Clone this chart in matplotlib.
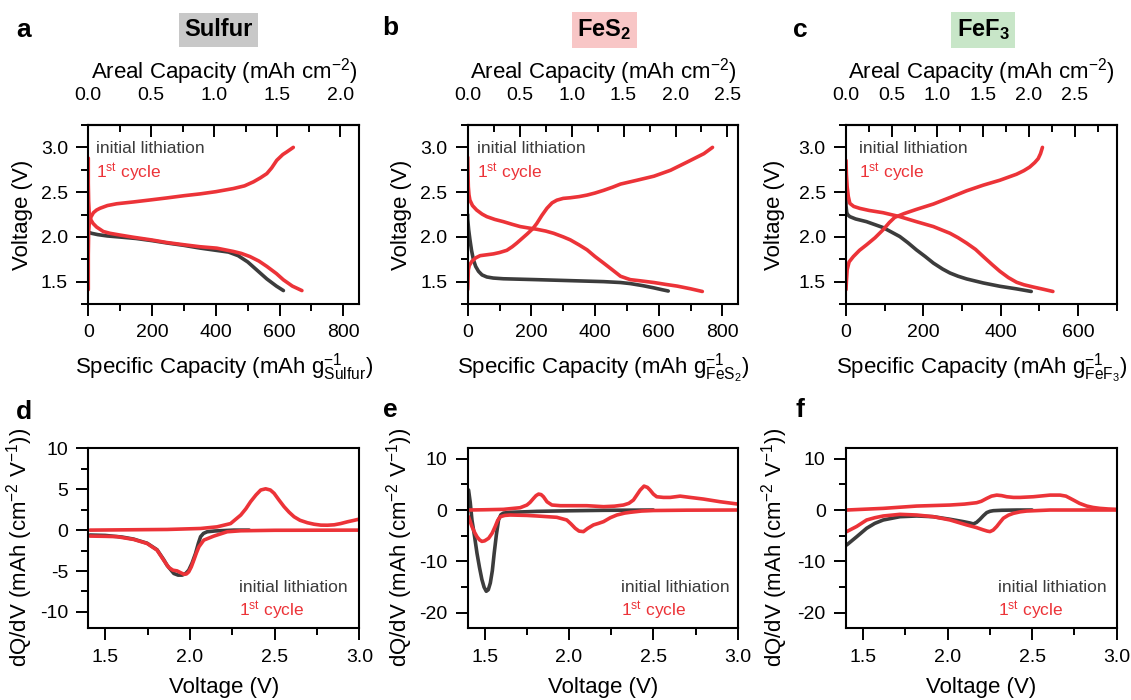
import matplotlib
matplotlib.use("Agg")
import matplotlib.pyplot as plt
from matplotlib.ticker import MultipleLocator, FormatStrFormatter, FixedLocator

plt.rcParams['font.family'] = ['Liberation Sans', 'DejaVu Sans']
plt.rcParams['mathtext.fontset'] = 'custom'
plt.rcParams['mathtext.rm'] = 'Liberation Sans'
plt.rcParams['mathtext.it'] = 'Liberation Sans:italic'
plt.rcParams['mathtext.bf'] = 'Liberation Sans:bold'
plt.rcParams['axes.unicode_minus'] = False

RED = '#ec3338'
GRAY = '#3c3c3c'

# ---------------- data: voltage profiles (specific capacity mAh/g, voltage V) -------------
s_init_cap = [0, 2, 10, 30, 60, 100, 150, 200, 250, 300, 350, 400, 440, 470, 500, 530, 560, 590, 612]
s_init_V = [2.06, 2.05, 2.04, 2.025, 2.01, 1.998, 1.982, 1.958, 1.93, 1.905, 1.875, 1.85, 1.83, 1.79, 1.72, 1.625, 1.53, 1.45, 1.40]
s_dis_cap = [0, 0, 1, 3, 8, 15, 26, 47, 68, 100, 141, 200, 246, 300, 350, 403, 455, 480, 507, 535, 560, 590, 612, 640, 670]
s_dis_V = [2.88, 2.6, 2.4, 2.25, 2.19, 2.15, 2.11, 2.06, 2.04, 2.02, 1.996, 1.965, 1.937, 1.912, 1.89, 1.874, 1.837, 1.815, 1.78, 1.73, 1.67, 1.59, 1.52, 1.45, 1.40]
s_chg_cap = [0, 0, 1, 3, 8, 16, 26, 37, 60, 89, 141, 200, 246, 300, 350, 400, 455, 490, 518, 540, 560, 575, 591, 610, 622, 643]
s_chg_V = [1.41, 1.8, 2.05, 2.15, 2.22, 2.27, 2.3, 2.32, 2.35, 2.37, 2.39, 2.415, 2.435, 2.46, 2.48, 2.505, 2.54, 2.57, 2.615, 2.66, 2.707, 2.77, 2.855, 2.92, 2.948, 3.0]

f_init_cap = [0, 0, 3, 7, 12, 18, 25, 34, 45, 60, 80, 112, 217, 322, 427, 480, 511, 550, 585, 610, 630]
f_init_V = [2.25, 2.2, 2.08, 1.97, 1.85, 1.744, 1.67, 1.615, 1.575, 1.552, 1.54, 1.532, 1.522, 1.511, 1.5, 1.49, 1.478, 1.455, 1.43, 1.41, 1.395]
f_dis_cap = [0, 1, 2, 4, 7, 15, 28, 45, 60, 85, 112, 140, 165, 190, 217, 245, 270, 300, 322, 350, 375, 400, 427, 455, 480, 500, 511, 540, 585, 620, 658, 700, 737]
f_dis_V = [2.89, 2.7, 2.56, 2.47, 2.41, 2.35, 2.3, 2.255, 2.226, 2.195, 2.17, 2.14, 2.115, 2.1, 2.085, 2.065, 2.04, 2.0, 1.967, 1.91, 1.855, 1.78, 1.707, 1.63, 1.56, 1.535, 1.522, 1.51, 1.49, 1.47, 1.45, 1.42, 1.39]
f_chg_cap = [0, 1, 2, 5, 13, 25, 39, 60, 81, 100, 123, 140, 154, 170, 186, 204, 217, 233, 249, 265, 280, 300, 322, 350, 375, 400, 427, 455, 480, 532, 585, 637, 690, 742, 769]
f_chg_V = [1.41, 1.5, 1.633, 1.68, 1.726, 1.765, 1.79, 1.8, 1.81, 1.825, 1.85, 1.89, 1.93, 1.98, 2.03, 2.09, 2.15, 2.24, 2.32, 2.38, 2.41, 2.43, 2.437, 2.45, 2.467, 2.49, 2.52, 2.555, 2.59, 2.633, 2.678, 2.744, 2.837, 2.93, 3.0]

t_init_cap = [0, 0, 2, 5, 10, 25, 53, 96, 139, 160, 182, 205, 226, 250, 269, 290, 312, 355, 398, 441, 479]
t_init_V = [2.45, 2.35, 2.27, 2.245, 2.226, 2.2, 2.17, 2.104, 2.004, 1.935, 1.855, 1.78, 1.707, 1.64, 1.596, 1.56, 1.53, 1.485, 1.448, 1.419, 1.39]
t_dis_cap = [0, 1, 3, 6, 10, 20, 36, 60, 96, 139, 182, 226, 269, 290, 312, 335, 355, 378, 398, 420, 441, 460, 484, 510, 535]
t_dis_V = [2.855, 2.7, 2.56, 2.45, 2.374, 2.34, 2.318, 2.295, 2.27, 2.226, 2.17, 2.115, 2.04, 1.99, 1.93, 1.86, 1.78, 1.69, 1.615, 1.545, 1.493, 1.465, 1.44, 1.415, 1.39]
t_chg_cap = [0, 1, 3, 8, 19, 35, 53, 75, 96, 112, 126, 150, 182, 226, 269, 312, 355, 398, 441, 460, 475, 488, 497, 503, 508]
t_chg_V = [1.41, 1.5, 1.633, 1.72, 1.78, 1.85, 1.911, 1.99, 2.08, 2.16, 2.218, 2.26, 2.307, 2.367, 2.44, 2.515, 2.578, 2.633, 2.7, 2.74, 2.78, 2.83, 2.874, 2.93, 3.0]

# ---------------- data: dQ/dV (voltage V, dQ/dV mAh cm-2 V-1) ----------------
d_init_V = [1.41, 1.5, 1.6, 1.668, 1.747, 1.806, 1.845, 1.865, 1.905, 1.93, 1.954, 1.975, 1.993, 2.013, 2.033, 2.05, 2.063, 2.08, 2.102, 2.15, 2.26, 2.35]
d_init_q = [-0.6, -0.65, -0.85, -1.1, -1.6, -2.4, -3.6, -4.3, -5.3, -5.5, -5.5, -5.3, -4.9, -4.0, -2.86, -1.6, -0.8, -0.4, -0.2, -0.1, 0, 0]
d_dis_V = [1.41, 1.5, 1.569, 1.668, 1.747, 1.806, 1.845, 1.875, 1.9, 1.924, 1.945, 1.964, 1.98, 1.993, 2.008, 2.023, 2.038, 2.053, 2.082, 2.141, 2.22, 2.3, 2.5, 3.0]
d_dis_q = [-0.73, -0.76, -0.8, -1.14, -1.63, -2.45, -3.67, -4.57, -4.9, -4.98, -5.2, -5.4, -5.35, -5.1, -4.5, -3.67, -2.8, -2.04, -1.22, -0.73, -0.2, -0.08, -0.02, 0]
d_chg_V = [1.41, 1.865, 2.063, 2.16, 2.24, 2.3, 2.33, 2.358, 2.39, 2.418, 2.447, 2.475, 2.497, 2.525, 2.556, 2.585, 2.615, 2.65, 2.694, 2.733, 2.773, 2.812, 2.852, 2.89, 2.931, 2.97, 3.0]
d_chg_q = [0, 0.08, 0.2, 0.4, 0.8, 1.84, 2.6, 3.47, 4.3, 4.9, 5.05, 4.9, 4.5, 3.7, 2.86, 2.2, 1.63, 1.2, 0.9, 0.72, 0.61, 0.6, 0.65, 0.8, 1.02, 1.2, 1.35]

e_init_V = [1.405, 1.415, 1.425, 1.44, 1.455, 1.47, 1.484, 1.497, 1.51, 1.522, 1.534, 1.546, 1.557, 1.57, 1.583, 1.597, 1.612, 1.65, 1.81, 2.0, 2.205, 2.5]
e_init_q = [3.9, 1.5, -1.9, -5.0, -8.4, -11.2, -13.5, -15.0, -15.8, -15.5, -14.2, -11.8, -8.4, -4.8, -1.9, -0.9, -0.6, -0.45, -0.26, -0.15, -0.06, 0]
e_dis_V = [1.405, 1.425, 1.44, 1.455, 1.47, 1.484, 1.5, 1.524, 1.545, 1.563, 1.578, 1.593, 1.62, 1.652, 1.75, 1.81, 1.928, 1.987, 2.012, 2.037, 2.06, 2.086, 2.11, 2.145, 2.175, 2.205, 2.245, 2.284, 2.33, 2.362, 2.43, 2.5, 2.7, 3.0]
e_dis_q = [-1.3, -3.2, -4.3, -5.2, -5.8, -6.1, -6.0, -5.5, -4.5, -3.2, -2.0, -1.3, -1.05, -0.97, -1.05, -1.16, -1.42, -1.94, -2.7, -3.55, -4.1, -4.2, -3.6, -2.9, -2.6, -2.26, -1.5, -0.97, -0.6, -0.45, -0.2, -0.1, -0.03, 0]
e_chg_V = [1.405, 1.5, 1.612, 1.711, 1.751, 1.77, 1.79, 1.805, 1.82, 1.835, 1.849, 1.87, 1.899, 1.95, 2.007, 2.106, 2.205, 2.27, 2.323, 2.355, 2.382, 2.402, 2.422, 2.445, 2.465, 2.481, 2.5, 2.52, 2.56, 2.6, 2.659, 2.718, 2.797, 2.896, 3.0]
e_chg_q = [0, 0.05, 0.13, 0.45, 0.97, 1.5, 2.26, 2.8, 3.1, 3.0, 2.58, 1.6, 0.97, 0.84, 0.84, 0.84, 0.65, 0.75, 0.97, 1.3, 1.94, 2.9, 3.87, 4.65, 4.4, 3.87, 3.1, 2.58, 2.45, 2.45, 2.7, 2.45, 2.13, 1.61, 1.16]

g_init_V = [1.404, 1.463, 1.522, 1.57, 1.62, 1.719, 1.818, 1.916, 2.015, 2.094, 2.13, 2.153, 2.172, 2.192, 2.212, 2.232, 2.251, 2.271, 2.32, 2.409, 2.5]
g_init_q = [-6.8, -5.2, -3.55, -2.6, -1.94, -1.3, -1.16, -1.3, -1.8, -2.26, -2.5, -2.7, -2.4, -1.8, -1.1, -0.5, -0.25, -0.13, -0.05, 0, 0]
g_dis_V = [1.404, 1.463, 1.522, 1.57, 1.62, 1.719, 1.818, 1.916, 2.015, 2.113, 2.17, 2.212, 2.235, 2.251, 2.27, 2.291, 2.31, 2.33, 2.36, 2.389, 2.43, 2.468, 2.606, 3.0]
g_dis_q = [-4.2, -3.2, -1.94, -1.5, -1.16, -0.84, -0.97, -1.3, -1.94, -2.9, -3.4, -3.87, -4.1, -4.2, -3.9, -3.2, -2.4, -1.6, -1.0, -0.65, -0.35, -0.2, 0, 0]
g_chg_V = [1.404, 1.62, 1.818, 2.015, 2.1, 2.172, 2.2, 2.232, 2.26, 2.291, 2.32, 2.35, 2.39, 2.429, 2.507, 2.56, 2.606, 2.665, 2.7, 2.744, 2.78, 2.823, 2.86, 2.901, 2.95, 3.0]
g_chg_q = [0, 0.32, 0.77, 0.97, 1.15, 1.42, 1.7, 2.26, 2.7, 2.9, 2.8, 2.58, 2.45, 2.45, 2.58, 2.75, 2.9, 2.9, 2.7, 1.94, 1.3, 0.77, 0.5, 0.32, 0.2, 0.13]

# areal conversion factors (mAh cm-2 per mAh g-1) and top-axis tick values
areal_factor = {'Sulfur': 0.00253, 'FeS2': 0.003064, 'FeF3': 0.004227}
areal_ticks = {'Sulfur': [0.0, 0.5, 1.0, 1.5, 2.0],
               'FeS2': [0.0, 0.5, 1.0, 1.5, 2.0, 2.5],
               'FeF3': [0.0, 0.5, 1.0, 1.5, 2.0, 2.5]}
areal_minor = {'Sulfur': [0.25, 0.75, 1.25, 1.75],
               'FeS2': [0.25, 0.75, 1.25, 1.75, 2.25],
               'FeF3': [0.25, 0.75, 1.25, 1.75, 2.25, 2.75]}

W, H = 1131, 700
fig = plt.figure(figsize=(W / 100, H / 100), dpi=100)

def px_axes(left, top, right, bottom):
    return fig.add_axes([left / W, 1 - bottom / H, (right - left) / W, (bottom - top) / H])

LW = 2.6
SPW = 1.5
TICK = dict(width=1.4, labelsize=14)

def style_spines(ax):
    for s in ax.spines.values():
        s.set_linewidth(SPW)

def plot_line(ax, x, y, c):
    ax.plot(x, y, color=c, lw=LW, solid_joinstyle='round', solid_capstyle='round')

def legend_text(ax, x, y1, y2):
    ax.text(x, y1, 'initial lithiation', transform=ax.transAxes, color=GRAY,
            fontsize=12.5, va='center', ha='left')
    ax.text(x, y2, r'1$^{\mathrm{st}}$ cycle', transform=ax.transAxes, color=RED,
            fontsize=12.5, va='center', ha='left')

def setup_top(ax, xlim, key, sub, ylab_x, leg_x):
    factor = areal_factor[key]
    ax.set_xlim(*xlim)
    ax.set_ylim(1.25, 3.25)
    ax.xaxis.set_major_locator(MultipleLocator(200))
    ax.xaxis.set_minor_locator(MultipleLocator(100))
    ax.yaxis.set_major_locator(MultipleLocator(0.5))
    ax.yaxis.set_minor_locator(MultipleLocator(0.25))
    ax.yaxis.set_major_formatter(FormatStrFormatter('%.1f'))
    ax.tick_params(which='both', direction='out', top=False, right=False, **TICK)
    ax.tick_params(which='major', length=8.6, pad=6)
    ax.tick_params(which='minor', length=5)
    style_spines(ax)
    ax.set_ylabel('Voltage (V)', fontsize=16)
    ax.yaxis.set_label_coords(ylab_x, 0.5)
    ax.set_xlabel(r'Specific Capacity (mAh g$_{\mathrm{' + sub + r'}}^{-1}$)', fontsize=16)
    ax.xaxis.set_label_coords(0.5, -0.265)
    sec = ax.secondary_xaxis('top', functions=(lambda x: x * factor, lambda x: x / factor))
    sec.xaxis.set_major_locator(FixedLocator(areal_ticks[key]))
    sec.xaxis.set_minor_locator(FixedLocator(areal_minor[key]))
    sec.xaxis.set_major_formatter(FormatStrFormatter('%.1f'))
    sec.tick_params(which='both', direction='in', **TICK)
    sec.tick_params(which='major', length=8.6, pad=15)
    sec.tick_params(which='minor', length=5)
    sec.spines['top'].set_linewidth(SPW)
    sec.set_xlabel(r'Areal Capacity (mAh cm$^{-2}$)', fontsize=16, labelpad=6)
    legend_text(ax, leg_x, 0.871, 0.732)

def setup_bottom(ax, ylim, ymaj, ymin, ylab_x, leg_x):
    ax.set_xlim(1.4, 3.0)
    ax.set_ylim(*ylim)
    ax.xaxis.set_major_locator(MultipleLocator(0.5))
    ax.xaxis.set_minor_locator(MultipleLocator(0.25))
    ax.xaxis.set_major_formatter(FormatStrFormatter('%.1f'))
    ax.yaxis.set_major_locator(MultipleLocator(ymaj))
    ax.yaxis.set_minor_locator(MultipleLocator(ymin))
    ax.tick_params(which='both', direction='out', top=False, right=False, **TICK)
    ax.tick_params(which='major', length=8.6, pad=6)
    ax.tick_params(which='minor', length=5)
    style_spines(ax)
    ax.set_ylabel(r'dQ/dV (mAh (cm$^{-2}$ V$^{-1}$))', fontsize=16)
    ax.yaxis.set_label_coords(ylab_x, 0.45)
    ax.set_xlabel('Voltage (V)', fontsize=16)
    ax.xaxis.set_label_coords(0.5, -0.27)
    legend_text(ax, leg_x, 0.228, 0.10)

# ---- top row ----
axa = px_axes(88.3, 125, 359.3, 304)
axb = px_axes(467.7, 125, 738.3, 304)
axc = px_axes(846, 125, 1116.7, 304)

for ax, (ic, iv, dc, dv, cc, cv) in zip(
        [axa, axb, axc],
        [(s_init_cap, s_init_V, s_dis_cap, s_dis_V, s_chg_cap, s_chg_V),
         (f_init_cap, f_init_V, f_dis_cap, f_dis_V, f_chg_cap, f_chg_V),
         (t_init_cap, t_init_V, t_dis_cap, t_dis_V, t_chg_cap, t_chg_V)]):
    plot_line(ax, ic, iv, GRAY)
    plot_line(ax, dc, dv, RED)
    plot_line(ax, cc, cv, RED)

setup_top(axa, (0, 850), 'Sulfur', 'Sulfur', -0.205, 0.03)
setup_top(axb, (0, 850), 'FeS2', r'FeS_2', -0.207, 0.036)
setup_top(axc, (0, 700), 'FeF3', r'FeF_3', -0.225, 0.048)

# ---- bottom row ----
axd = px_axes(88.3, 448.3, 359.3, 628.3)
axe = px_axes(467.7, 448.3, 737.7, 628.3)
axf = px_axes(846, 448.3, 1116.7, 628.3)

for ax, (iv, iq, dv, dq, cv, cq) in zip(
        [axd, axe, axf],
        [(d_init_V, d_init_q, d_dis_V, d_dis_q, d_chg_V, d_chg_q),
         (e_init_V, e_init_q, e_dis_V, e_dis_q, e_chg_V, e_chg_q),
         (g_init_V, g_init_q, g_dis_V, g_dis_q, g_chg_V, g_chg_q)]):
    plot_line(ax, iv, iq, GRAY)
    plot_line(ax, dv, dq, RED)
    plot_line(ax, cv, cq, RED)

setup_bottom(axd, (-12, 10), 5, 2.5, -0.197, 0.556)
setup_bottom(axe, (-23, 12), 10, 5, -0.195, 0.567)
setup_bottom(axf, (-23, 12), 10, 5, -0.207, 0.563)

# ---- panel letters and titles ----
for letter, (x, y) in zip('abcdef', [(24, 30), (390, 28), (800, 30), (24, 412), (390, 410), (800, 410)]):
    fig.text(x / W, 1 - y / H, letter, fontsize=19, fontweight='bold', ha='center', va='center')

titles = [('Sulfur', 218.5, '#c8c8c8'), (r'FeS$_\mathbf{2}$', 604.5, '#f8c6c6'), (r'FeF$_\mathbf{3}$', 983, '#c8e6c8')]
for t, x, fc in titles:
    fig.text(x / W, 1 - 30 / H, t, fontsize=17, fontweight='bold', ha='center', va='center',
             bbox=dict(boxstyle='square,pad=0.22', fc=fc, ec='none'))

fig.savefig('out.png', dpi=100)
